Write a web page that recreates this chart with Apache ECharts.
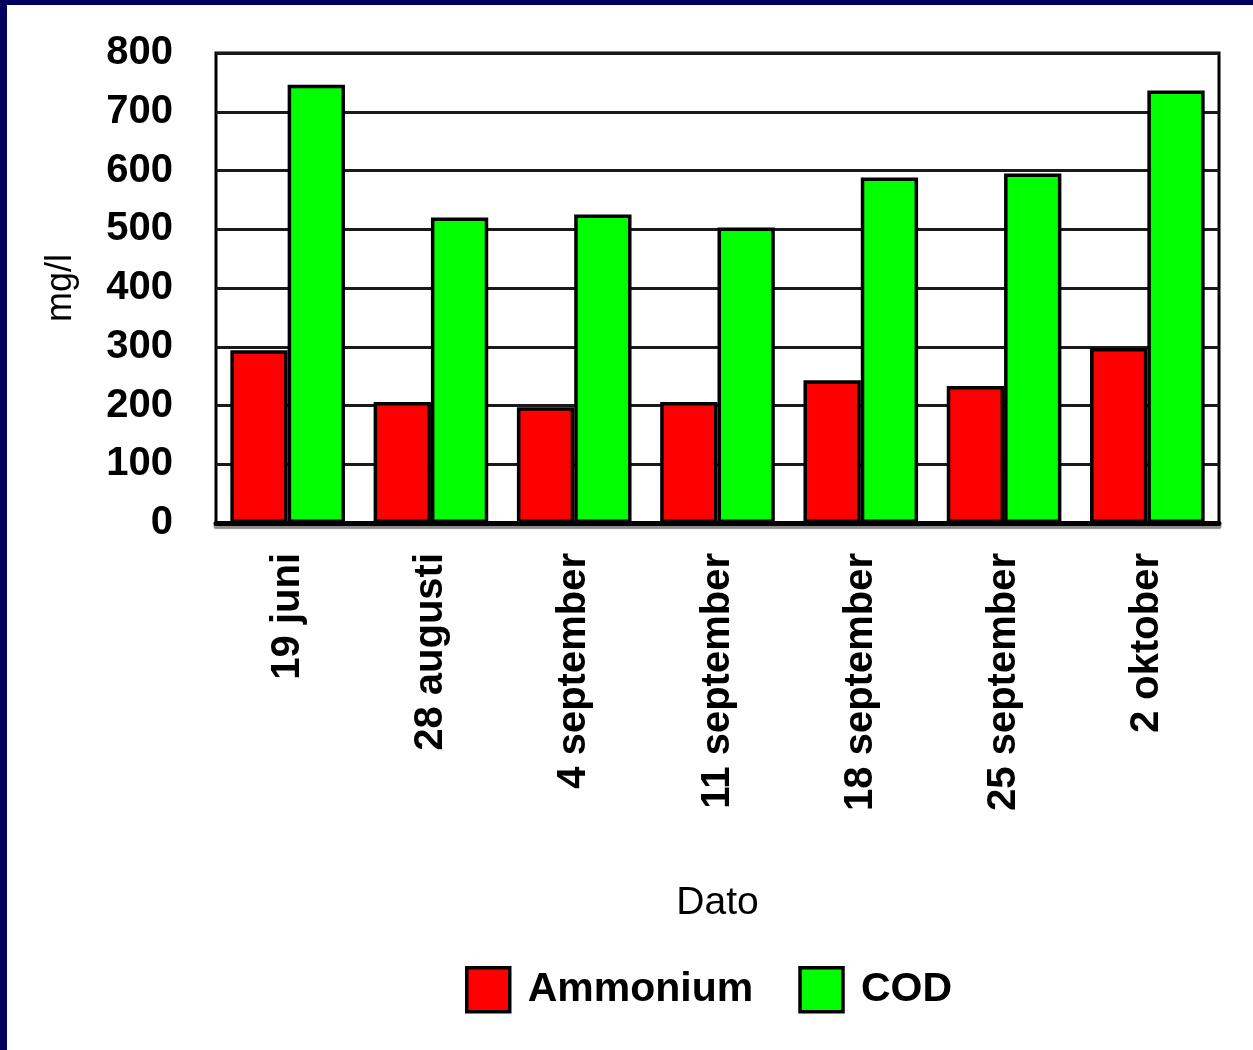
<!DOCTYPE html>
<html><head><meta charset="utf-8">
<script src="https://cdn.jsdelivr.net/npm/echarts@6/dist/echarts.min.js"></script>
<style>
html,body{margin:0;padding:0;background:#fff;}
#frame{position:absolute;left:0;top:0;width:1253px;height:1050px;box-sizing:border-box;border-left:7px solid #000060;border-top:5px solid #000060;}
#c{position:absolute;left:0;top:0;width:1253px;height:1050px;}
</style></head>
<body>
<div id="c"></div>
<div id="frame"></div>
<script>
const categories = ['19 juni','28 augusti','4 september','11 september','18 september','25 september','2 oktober'];
const ammonium = [294, 206, 197, 206, 243, 233, 298];
const cod = [746, 520, 525, 503, 588, 595, 736];
const yTicks = [0,100,200,300,400,500,600,700,800];

const FONT = '"Liberation Sans", Arial, sans-serif';
const chart = echarts.init(document.getElementById('c'), null, {renderer:'canvas'});
chart.setOption({
  backgroundColor: '#ffffff',
  animation: false,
  grid: {left:216, right:34, top:53, bottom:527, show:true, borderColor:'#000', borderWidth:3, backgroundColor:'transparent'},
  legend: {
    data: ['Ammonium','COD'], top: 966, left: 465, padding: 0,
    itemWidth: 43, itemHeight: 44, itemGap: 45,
    itemStyle: {borderColor:'#000', borderWidth:3.5},
    textStyle: {fontFamily: FONT, fontWeight:'bold', fontSize: 41, color:'#000', padding:[5,0,0,13]},
    icon: 'rect'
  },
  xAxis: {
    type: 'category', data: categories,
    name: 'Dato', nameLocation: 'middle', nameGap: 361,
    nameTextStyle: {fontFamily: FONT, fontSize: 39, color:'#000'},
    axisLine: {show:true, lineStyle:{color:'#000', width:5, shadowColor:'rgba(0,0,0,0.45)', shadowOffsetY:3, shadowBlur:1}},
    axisTick: {show:false},
    axisLabel: {rotate: 90, margin: 30, fontFamily: FONT, fontWeight:'bold', fontSize: 40, color:'#000', interval:0}
  },
  yAxis: {
    type: 'value', min: 0, max: 800, interval: 100,
    name: 'mg/l', nameLocation: 'middle', nameGap: 137,
    nameTextStyle: {fontFamily: FONT, fontSize: 36, color:'#000'},
    axisLine: {show:false}, axisTick: {show:false},
    axisLabel: {margin: 43, fontFamily: FONT, fontWeight:'bold', fontSize: 40, color:'#000',
      formatter: v => yTicks.includes(v) ? String(v) : ''},
    splitLine: {show:true, lineStyle:{color:'#1a1a1a', width:3}}
  },
  series: [
    {name:'Ammonium', type:'bar', data: ammonium, barGap:'0%', barCategoryGap:'20%',
     itemStyle:{color:'#ff0000', borderColor:'#000', borderWidth:3.5}},
    {name:'COD', type:'bar', data: cod, barGap:'0%', barCategoryGap:'20%',
     itemStyle:{color:'#00ff00', borderColor:'#000', borderWidth:3.5}}
  ]
});
</script>
</body></html>
